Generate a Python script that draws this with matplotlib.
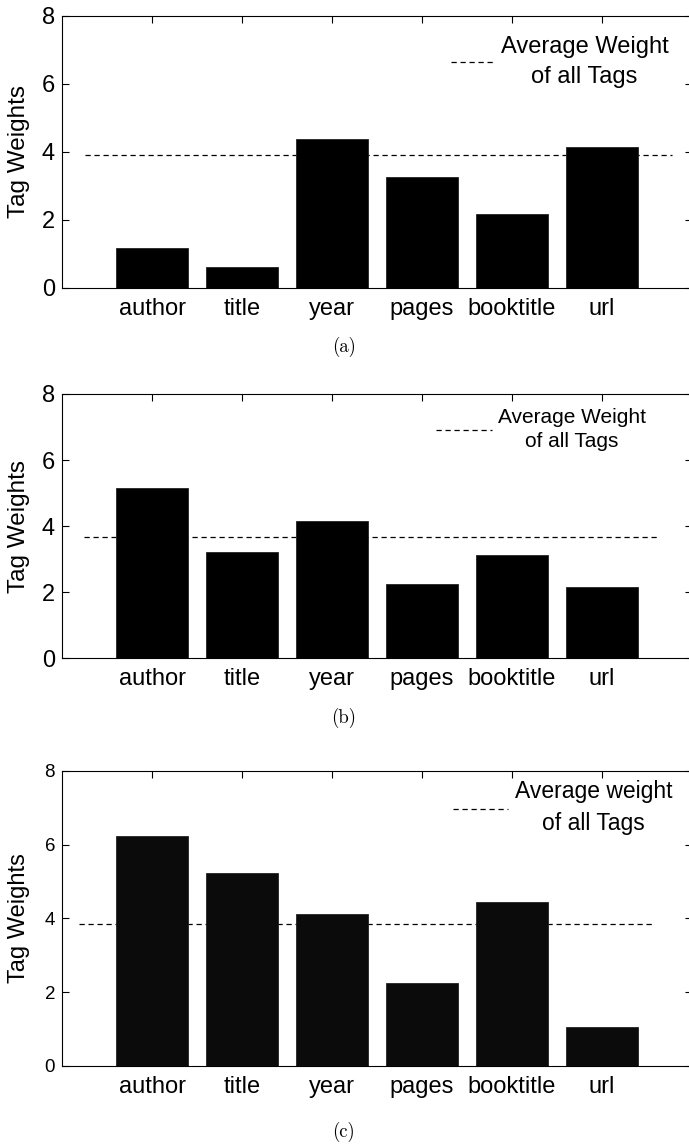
import matplotlib
matplotlib.use("Agg")
import matplotlib.pyplot as plt

plt.rcParams["font.family"] = ["Liberation Sans", "DejaVu Sans"]

# tag names and weights
tags = ["author", "title", "year", "pages", "booktitle", "url"]
weights_a = [1.17, 0.63, 4.37, 3.27, 2.16, 4.15]
weights_b = [5.14, 3.23, 4.16, 2.26, 3.13, 2.15]
weights_c = [6.22, 5.22, 4.13, 2.26, 4.45, 1.06]
avg_a = 3.92
avg_b = 3.68
avg_c = 3.86
legend_a = "Average Weight\nof all Tags"
legend_b = "Average Weight\nof all Tags"
legend_c = "Average weight\nof all Tags"
captions = ["(a)", "(b)", "(c)"]

W, H = 689, 1147
fig = plt.figure(figsize=(W / 100, H / 100), dpi=100)


def px_axes(top, bottom):
    # axes rectangle from pixel rows, left edge at x=62, right spine falls off the image
    left = 62 / W
    return [left, 1 - bottom / H, 630 / W, (bottom - top) / H]


panels = [
    dict(vals=weights_a, avg=avg_a, span=(0.25, 6.78), rect=px_axes(15.7, 288),
         leg=legend_a, leg_size=17, leg_pos=(0.79, 0.83), hl=1.8, ls=1.45,
         ytick=17, ylab=17.5, cap_y=347, face="black"),
    dict(vals=weights_b, avg=avg_b, span=(0.24, 6.64), rect=px_axes(394, 658.3),
         leg=legend_b, leg_size=15, leg_pos=(0.76, 0.865), hl=2.7, ls=1.37,
         ytick=17, ylab=17.5, cap_y=718, face="black"),
    dict(vals=weights_c, avg=avg_c, span=(0.19, 6.59), rect=px_axes(770.7, 1066),
         leg=legend_c, leg_size=16.5, leg_pos=(0.795, 0.875), hl=2.4, ls=1.47,
         ytick=13.5, ylab=17, cap_y=1132, face="#0b0b0b"),
]

x = list(range(1, len(tags) + 1))

for p, cap in zip(panels, captions):
    ax = fig.add_axes(p["rect"])
    ax.bar(x, p["vals"], width=0.8, color=p["face"], edgecolor="#222222",
           linewidth=0.6, zorder=3)
    line = ax.hlines(p["avg"], p["span"][0], p["span"][1], colors="black",
                     linestyles=(0, (4.2, 3.0)), linewidth=0.9, zorder=2,
                     label=p["leg"])
    ax.set_xlim(0, 7)
    ax.set_ylim(0, 8)
    ax.set_xticks(x)
    ax.set_xticklabels(tags, fontsize=17)
    ax.set_yticks([0, 2, 4, 6, 8])
    ax.tick_params(direction="in", length=5, width=0.8, top=True, right=True)
    ax.tick_params(axis="y", labelsize=p["ytick"], pad=5)
    ax.tick_params(axis="x", pad=7)
    ax.set_ylabel("Tag Weights", fontsize=p["ylab"])
    ax.yaxis.set_label_coords(-0.05, 0.5)
    for s in ax.spines.values():
        s.set_linewidth(0.8)

    leg = ax.legend(handles=[line], loc="center", bbox_to_anchor=p["leg_pos"],
                    frameon=False, fontsize=p["leg_size"], handlelength=p["hl"],
                    handletextpad=0.3, borderpad=0)
    for t in leg.get_texts():
        t.set_multialignment("center")
        t.set_linespacing(p["ls"])

    fig.text(344 / W, 1 - p["cap_y"] / H, cap, family="cmr10", fontsize=13.5,
             ha="center", va="center")

fig.savefig("out.png", dpi=100)
